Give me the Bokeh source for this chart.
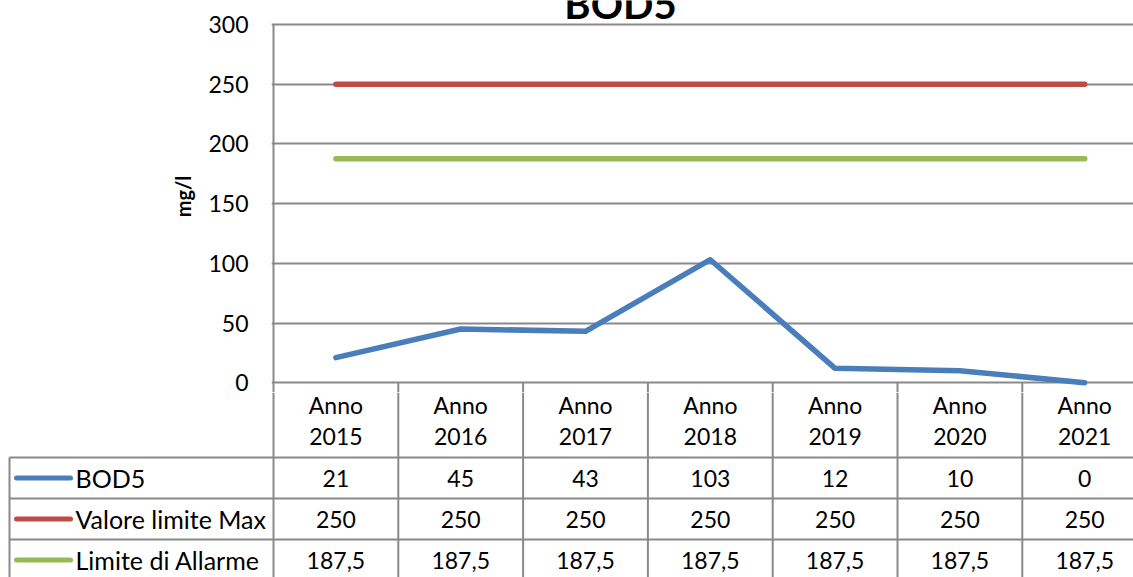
from bokeh.plotting import figure
from bokeh.models import Range1d, FixedTicker
from bokeh.core.properties import value
from bokeh.embed import file_html
from bokeh.resources import INLINE

# ---------------- data ----------------
title_text = "BOD5"
y_label = "mg/l"
cat_top = ["Anno", "Anno", "Anno", "Anno", "Anno", "Anno", "Anno"]
cat_years = ["2015", "2016", "2017", "2018", "2019", "2020", "2021"]
series_names = ["BOD5", "Valore limite Max", "Limite di Allarme"]
bod5 = [21, 45, 43, 103, 12, 10, 0]
valore_max = [250, 250, 250, 250, 250, 250, 250]
allarme = [187.5, 187.5, 187.5, 187.5, 187.5, 187.5, 187.5]
y_ticks = [0, 50, 100, 150, 200, 250, 300]

# ---------------- styles ----------------
FONT = "Lato"
COLORS = ["#4A7EBB", "#BE4B48", "#98B954"]
GRID = "#898989"
W = 1133
H = 577
COL_W = 124.8          # px per category column
AXIS_X = 273           # pixel column of the value axis
FRAME_LEFT = 271       # px from figure left edge to plot frame
PX_PER_UNIT = 59.7 / 50.0
ROW_H = 41.0
ZERO_Y = 382.2         # pixel row of the value 0
TOP_Y = 24             # pixel row of the value 300
TABLE_TOP = 457        # pixel row of first table rule
TITLE_SHIFT = 17       # title sits above the top gridline

n = len(cat_years)
xs = [i + 0.5 for i in range(n)]
y_max = max(y_ticks)

# ---------------- chart ----------------
top_h = 392
y_end = y_max + TOP_Y / PX_PER_UNIT
y_start = -(top_h - ZERO_Y) / PX_PER_UNIT
x_start = -(AXIS_X - FRAME_LEFT) / COL_W
x_end = (W - AXIS_X) / COL_W

p = figure(width=W, height=top_h, output_backend="svg", toolbar_location=None,
           x_range=Range1d(x_start, x_end), y_range=Range1d(y_start, y_end),
           min_border_left=FRAME_LEFT, min_border_right=0,
           min_border_top=0, min_border_bottom=0,
           x_axis_type=None)
p.outline_line_color = None
p.xgrid.grid_line_color = None
p.ygrid.grid_line_color = GRID
p.ygrid.grid_line_width = 2
p.yaxis.ticker = FixedTicker(ticks=y_ticks)
p.yaxis.minor_tick_line_color = None
p.yaxis.major_tick_out = 0
p.yaxis.major_tick_in = 0
p.yaxis.axis_line_color = None
p.yaxis.major_label_standoff = 23
p.yaxis.major_label_text_font = FONT
p.yaxis.major_label_text_font_size = "23px"
p.yaxis.major_label_text_color = "black"
p.yaxis.axis_label = y_label
p.yaxis.axis_label_text_font = FONT
p.yaxis.axis_label_text_font_size = "20px"
p.yaxis.axis_label_text_font_style = "bold"
p.yaxis.axis_label_text_color = "black"
p.yaxis.axis_label_standoff = 10

# value axis line and category header separators
p.segment(x0=[0], x1=[0], y0=[y_start], y1=[y_max], line_color=GRID, line_width=2)
p.segment(x0=list(range(1, n + 1)), x1=list(range(1, n + 1)),
          y0=[0] * n, y1=[y_start] * n, line_color=GRID, line_width=2)

for vals, col in zip([valore_max, allarme, bod5], [COLORS[1], COLORS[2], COLORS[0]]):
    p.line(xs, vals, line_color=col, line_width=5.5, line_cap="round", line_join="round")

# chart title (partly cut by the top edge, as in the original)
p.text(x=[(620 - AXIS_X) / COL_W], y=[y_max + TITLE_SHIFT / PX_PER_UNIT + (TOP_Y - 20) / PX_PER_UNIT],
       text=[title_text], text_font=value(FONT), text_font_size=value("40px"),
       text_font_style="bold", text_align="center", text_baseline="alphabetic",
       text_color="black")

# ---------------- data table ----------------
bot_h = H - top_h
tb_top = (TABLE_TOP - top_h) / ROW_H
tb_bot = tb_top - bot_h / ROW_H
tx_start = -AXIS_X / COL_W
tx_end = x_end

t = figure(width=W, height=bot_h, output_backend="svg", toolbar_location=None,
           x_range=Range1d(tx_start, tx_end), y_range=Range1d(tb_bot, tb_top),
           min_border=0, x_axis_type=None, y_axis_type=None)
t.outline_line_color = None
t.xgrid.grid_line_color = None
t.ygrid.grid_line_color = None

left_edge = tx_start + 9 / COL_W
n_rows = len(series_names)
# horizontal rules
t.segment(x0=[left_edge] * n_rows, x1=[tx_end] * n_rows,
          y0=[-r for r in range(n_rows)], y1=[-r for r in range(n_rows)],
          line_color=GRID, line_width=2)
# vertical rules
t.segment(x0=list(range(n + 1)), x1=list(range(n + 1)),
          y0=[tb_top] * (n + 1), y1=[-n_rows] * (n + 1),
          line_color=GRID, line_width=2)
t.segment(x0=[left_edge], x1=[left_edge], y0=[0], y1=[-n_rows],
          line_color=GRID, line_width=2)

# header text (two lines)
hdr_line1 = (TABLE_TOP - 404) / ROW_H
hdr_line2 = (TABLE_TOP - 436) / ROW_H
t.text(x=xs, y=[hdr_line1] * n, text=cat_top, text_font=value(FONT),
       text_font_size=value("23px"), text_align="center", text_baseline="middle",
       text_color="black")
t.text(x=xs, y=[hdr_line2] * n, text=cat_years, text_font=value(FONT),
       text_font_size=value("23px"), text_align="center", text_baseline="middle",
       text_color="black")

def fmt(v):
    if float(v).is_integer():
        return str(int(v))
    return str(v).replace(".", ",")

all_series = [bod5, valore_max, allarme]
cx, cy, ctext = [], [], []
for r, vals in enumerate(all_series):
    for i, v in enumerate(vals):
        cx.append(xs[i])
        cy.append(-r - 0.5)
        ctext.append(fmt(v))
t.text(x=cx, y=cy, text=ctext, text_font=value(FONT), text_font_size=value("23px"),
       text_align="center", text_baseline="middle", text_color="black")

# legend keys + names
key_x0 = (16 - AXIS_X) / COL_W
key_x1 = (70 - AXIS_X) / COL_W
name_x = (75 - AXIS_X) / COL_W
row_mid = [-r - 0.5 for r in range(n_rows)]
t.segment(x0=[key_x0] * n_rows, x1=[key_x1] * n_rows, y0=row_mid, y1=row_mid,
          line_color=COLORS, line_width=5, line_cap="round")
t.text(x=[name_x] * n_rows, y=row_mid, text=series_names, text_font=value(FONT),
       text_font_size=value("25px"), text_align="left", text_baseline="middle",
       text_color="black")

open("out.html", "w").write(file_html([p, t], INLINE))
